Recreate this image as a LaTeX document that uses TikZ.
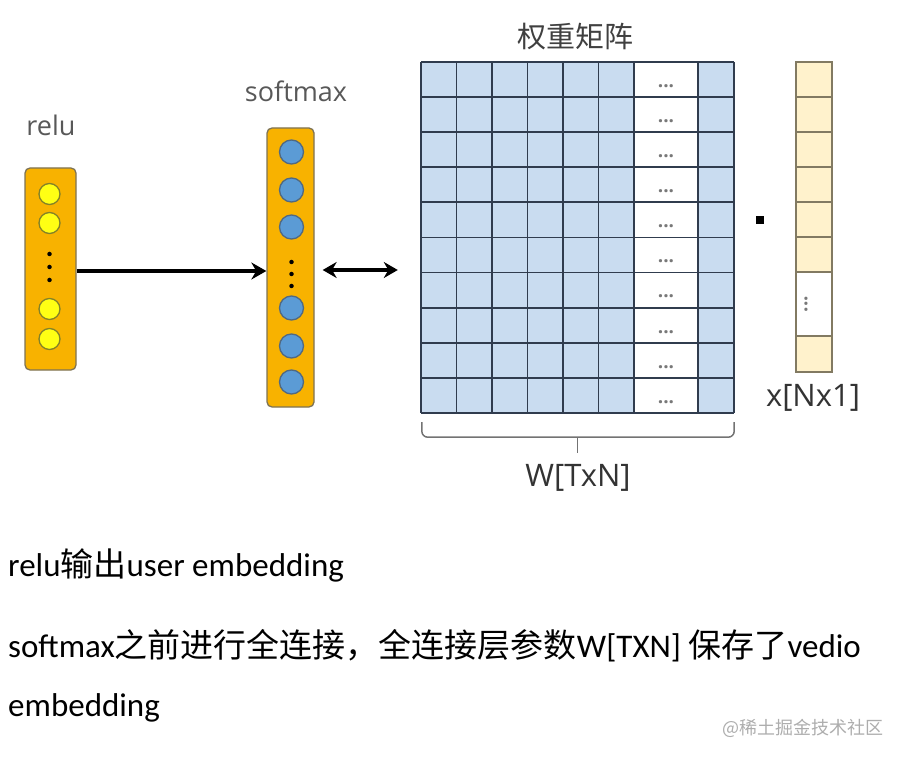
\documentclass[tikz,border=0pt]{standalone}
\usepackage{fontspec}
\setmainfont{Carlito}
\newfontfamily\cjk{Noto Sans CJK SC}
\newfontfamily\lblfont{Open Sans}
\definecolor{nnorange}{RGB}{248,178,0}
\definecolor{nnedge}{RGB}{125,115,85}
\definecolor{nnyellow}{RGB}{255,255,20}
\definecolor{yedge}{RGB}{130,130,40}
\definecolor{nnblue}{RGB}{91,155,213}
\definecolor{bedge}{RGB}{80,105,130}
\definecolor{cellblue}{RGB}{201,220,240}
\definecolor{cellgrid}{RGB}{48,60,78}
\definecolor{xfill}{RGB}{255,242,204}
\definecolor{xedge}{RGB}{130,122,98}
\definecolor{lblgray}{RGB}{88,88,88}
\definecolor{dotgray}{RGB}{120,120,120}
\usetikzlibrary{arrows.meta,positioning,calc}

\begin{document}
\begin{tikzpicture}[x=1pt,y=-1pt,
  layer/.style={draw=nnedge,fill=nnorange,line width=1.3pt,rounded corners=5pt,minimum width=51,inner sep=0},
  relunit/.style={circle,draw=yedge,fill=nnyellow,line width=1.3pt,minimum size=21,inner sep=0},
  smunit/.style={circle,draw=bedge,fill=nnblue,line width=1.3pt,minimum size=24,inner sep=0},
  vdot/.style={circle,fill=black,minimum size=4.5,inner sep=0},
  lbl/.style={font=\lblfont\fontsize{27}{30}\selectfont,text=lblgray},
  dim/.style={font=\lblfont\fontsize{31}{34}\selectfont,text=black!80},
  gridline/.style={draw=cellgrid,line width=1.8pt},
  ellip/.style={font=\lblfont\bfseries\fontsize{19}{20}\selectfont,text=dotgray,inner sep=0},
  body/.style={font=\fontsize{33}{40}\selectfont,anchor=base west,inner sep=0}]
  \useasboundingbox (0,0) rectangle (905,759);
  % relu layer
  \node[layer,minimum height=202] (relubox) at (50.5,269) {};
  \node[lbl] (relulbl) at (51,125) {relu};
  \foreach \n/\y in {1/194,2/223,3/309,4/339}
    \node[relunit] (r\n) at (49.5,\y) {};
  \foreach \n/\y in {1/254,2/267,3/280}
    \node[vdot] (rd\n) at (49.5,\y) {};
  % softmax layer
  \node[layer,minimum width=47,minimum height=279] (smbox) at (290.5,267.5) {};
  \node[lbl] (smlbl) at (296,91) {softmax};
  \foreach \n/\y in {1/152,2/190,3/227,4/308,5/346,6/382}
    \node[smunit] (s\n) at (291.5,\y) {};
  \foreach \n/\y in {1/262,2/274,3/286}
    \node[vdot] (sd\n) at (291.5,\y) {};
  % weight matrix
  \node[minimum width=313,minimum height=351,inner sep=0] (wmat) at (577.5,237.5) {};
  \node[font=\cjk\fontsize{29}{32}\selectfont,text=black!75] (wtitle) at (575,37) {权重矩阵};
  \fill[cellblue] (421,62) rectangle (634,413);
  \fill[cellblue] (698,62) rectangle (734,413);
  \fill[white] (634,62) rectangle (698,413);
  \foreach \r in {0,...,10}
    \draw[gridline] (421,62+35.1*\r) -- (734,62+35.1*\r);
  \foreach \c in {421,456.5,492,527.5,563,598.5,634,698,734}
    \draw[gridline] (\c,62) -- (\c,413);
  \foreach \r in {0,...,9}
    \node[ellip] (dd\r) at (666,62+35.1*\r+24) {...};
  % brace and size
  \draw[draw=black!55,line width=1.5pt,rounded corners=6pt]
    ($(wmat.south west)+(1,9)$) |- ($(wmat.south east)+(0,24)$) -- ($(wmat.south east)+(0,9)$);
  \draw[draw=black!55,line width=1.5pt] ($(wmat.south)+(0,24)$) -- ($(wmat.south)+(0,40)$);
  \node[dim] (wdim) at (578,478) {W[TxN]};
  % product sign
  \node[fill=black,minimum size=8,inner sep=0] (prod) at (760,220) {};
  % vector x
  \node[minimum width=36,minimum height=310,inner sep=0] (xvec) at (814,217) {};
  \foreach \r in {0,...,5}
    \draw[draw=xedge,fill=xfill,line width=1.5pt] (796,62+35*\r) rectangle (832,97+35*\r);
  \draw[draw=xedge,fill=white,line width=1.5pt] (796,272) rectangle (832,336);
  \draw[draw=xedge,fill=xfill,line width=1.5pt] (796,336) rectangle (832,372);
  \node[ellip,rotate=90] (xdots) at (806,304) {...};
  \node[dim] (xdim) at (813,398) {x[Nx1]};
  % connections
  \draw[-{Stealth[length=15pt,width=17pt]},line width=3.8pt] (relubox.east |- 0,271) -- (smbox.west |- 0,271);
  \draw[{Stealth[length=14pt,width=16pt]}-{Stealth[length=14pt,width=16pt]},line width=3.5pt]
    ($(smbox.east |- 0,270)+(8,0)$) -- ($(wmat.west |- 0,270)+(-23,0)$);
  % caption text
  \node[body] (cap1) at (8,576) {relu{\cjk 输出}user embedding};
  \node[body] (cap2) at (8,657) {softmax{\cjk 之前进行全连接，全连接层参数}W[TXN] {\cjk 保存了}vedio};
  \node[body] (cap3) at (8,716) {embedding};
  \node[font=\cjk\fontsize{18}{20}\selectfont,text=black!32,anchor=east,inner sep=0] (wmark) at (884,728) {@稀土掘金技术社区};
\end{tikzpicture}
\end{document}
